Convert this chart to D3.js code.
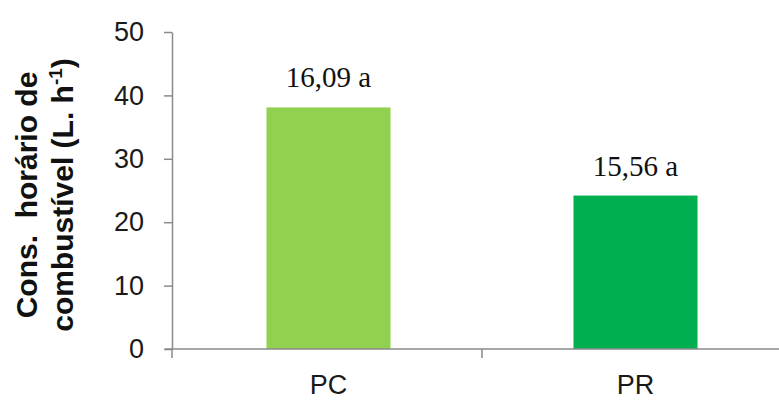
<!DOCTYPE html>
<html>
<head>
<meta charset="utf-8">
<script src="https://cdn.jsdelivr.net/npm/d3@7"></script>
<style>
  body { margin: 0; background: #fff; }
  svg { display: block; }
</style>
</head>
<body>
<div id="chart"></div>
<script>
// dados do gráfico
const categories = ["PC", "PR"];
const values = [38.1, 24.2];
const barLabels = ["16,09 a", "15,56 a"];
const barColors = ["#92d050", "#00b050"];
const yTicks = [0, 10, 20, 30, 40, 50];

const width = 779, height = 400;
const axisColor = "#8a8a8a";

const svg = d3.select("#chart").append("svg")
    .attr("width", width)
    .attr("height", height);

const y = d3.scaleLinear().domain([0, 50]).range([349, 32]);
const x = d3.scaleBand().domain(categories).range([175, 789])
    .paddingInner(0.596).paddingOuter(0.298);

// eixo Y
const yAxis = svg.append("g")
    .attr("transform", "translate(172,0)")
    .call(d3.axisLeft(y).tickValues(yTicks).tickSize(8).tickPadding(20).tickSizeOuter(0));
yAxis.select(".domain").attr("stroke", axisColor).attr("stroke-width", 1.5);
yAxis.selectAll(".tick line").attr("stroke", axisColor).attr("stroke-width", 1.5);
yAxis.selectAll(".tick text")
    .attr("fill", "#1a1a1a")
    .style("font-family", "Arial, 'Liberation Sans', sans-serif")
    .style("font-size", "27px");

// barras
svg.selectAll(".bar")
    .data(categories)
    .enter().append("rect")
    .attr("class", "bar")
    .attr("x", d => x(d))
    .attr("width", x.bandwidth())
    .attr("y", (d, i) => y(values[i]))
    .attr("height", (d, i) => y(0) - y(values[i]))
    .attr("fill", (d, i) => barColors[i]);

// rótulos das barras
svg.selectAll(".bar-label")
    .data(categories)
    .enter().append("text")
    .attr("class", "bar-label")
    .attr("x", d => x(d) + x.bandwidth() / 2)
    .attr("y", (d, i) => y(values[i]) - 20)
    .attr("text-anchor", "middle")
    .attr("fill", "#111")
    .style("font-family", "'Times New Roman', 'Liberation Serif', serif")
    .style("font-size", "29px")
    .text((d, i) => barLabels[i]);

// eixo X (linha + marcas nas divisas das categorias)
svg.append("line")
    .attr("x1", 165).attr("x2", width)
    .attr("y1", y(0)).attr("y2", y(0))
    .attr("stroke", axisColor).attr("stroke-width", 1.5);

const step = x.step();
const bounds = [172, 175 + step, 175 + 2 * step];
svg.selectAll(".xtick")
    .data(bounds)
    .enter().append("line")
    .attr("x1", d => d).attr("x2", d => d)
    .attr("y1", y(0)).attr("y2", y(0) + 9)
    .attr("stroke", axisColor).attr("stroke-width", 1.5);

svg.selectAll(".xlabel")
    .data(categories)
    .enter().append("text")
    .attr("x", d => x(d) + x.bandwidth() / 2)
    .attr("y", 394)
    .attr("text-anchor", "middle")
    .attr("fill", "#1a1a1a")
    .style("font-family", "Arial, 'Liberation Sans', sans-serif")
    .style("font-size", "27px")
    .text(d => d);

// título do eixo Y
const title = svg.append("text")
    .attr("transform", "translate(0,195) rotate(-90)")
    .attr("text-anchor", "middle")
    .attr("fill", "#111")
    .style("font-family", "Arial, 'Liberation Sans', sans-serif")
    .style("font-size", "30px")
    .style("font-weight", "bold")
    .style("white-space", "pre");

title.append("tspan")
    .attr("x", 0).attr("y", 37)
    .text("Cons.  horário de");

title.append("tspan")
    .attr("x", 0).attr("y", 73)
    .text("combustível (L. h");
title.append("tspan")
    .attr("dy", -11)
    .style("font-size", "19px")
    .text("-1");
title.append("tspan")
    .attr("dy", 11)
    .text(")");
</script>
</body>
</html>
